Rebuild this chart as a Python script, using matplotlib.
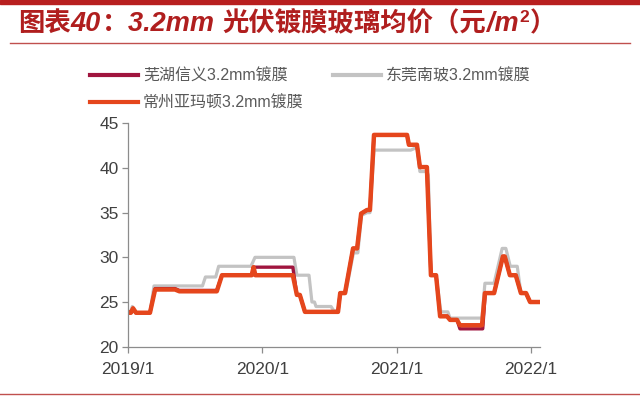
import matplotlib
matplotlib.use("Agg")
import matplotlib.pyplot as plt
import pandas as pd

plt.rcParams['font.family'] = ['Liberation Sans', 'Noto Sans CJK SC', 'DejaVu Sans']

# ---- data ----
wuhu_dates = ["2019-01-01", "2019-01-08", "2019-01-14", "2019-01-22", "2019-03-01", "2019-03-15",
              "2019-05-08", "2019-05-20", "2019-08-30", "2019-09-13", "2019-12-03", "2019-12-10",
              "2020-03-24", "2020-04-04", "2020-04-12", "2020-04-26", "2020-07-25", "2020-07-31",
              "2020-08-13", "2020-09-04", "2020-09-15", "2020-09-26", "2020-10-12", "2020-10-20",
              "2020-10-31", "2021-01-29", "2021-02-03", "2021-02-25", "2021-03-05", "2021-03-24",
              "2021-04-04", "2021-04-18", "2021-04-29", "2021-05-18", "2021-05-26", "2021-06-14",
              "2021-06-22", "2021-08-23", "2021-08-30", "2021-09-23", "2021-10-17", "2021-10-22",
              "2021-11-05", "2021-11-21", "2021-12-05", "2021-12-19", "2021-12-30", "2022-01-26"]
wuhu_vals = [23.8, 23.8, 24.2, 23.8, 23.8, 26.5,
             26.5, 26.3, 26.3, 28.0, 28.0, 28.9,
             28.9, 25.8, 25.8, 23.9, 23.9, 26.0,
             26.0, 31.0, 31.0, 34.9, 35.3, 35.3,
             43.7, 43.7, 42.6, 42.6, 40.1, 40.1,
             28.0, 28.0, 23.4, 23.4, 23.0, 23.0,
             22.0, 22.0, 26.0, 26.0, 30.1, 30.1,
             28.0, 28.0, 26.0, 26.0, 25.0, 25.0]

dongguan_dates = ["2019-01-01", "2019-01-06", "2019-01-12", "2019-01-20", "2019-03-01", "2019-03-12",
                  "2019-07-22", "2019-07-30", "2019-08-27", "2019-09-04", "2019-12-01", "2019-12-12",
                  "2020-03-27", "2020-04-04", "2020-05-07", "2020-05-15", "2020-05-22", "2020-05-26",
                  "2020-07-06", "2020-07-14", "2020-07-25", "2020-07-31", "2020-08-15", "2020-09-05",
                  "2020-09-17", "2020-09-27", "2020-10-12", "2020-10-20", "2020-10-31", "2021-02-08",
                  "2021-02-25", "2021-03-05", "2021-03-24", "2021-03-28", "2021-04-04", "2021-04-18",
                  "2021-05-01", "2021-05-20", "2021-05-26", "2021-08-21", "2021-08-29", "2021-09-23",
                  "2021-10-15", "2021-10-25", "2021-11-06", "2021-11-25", "2021-12-05", "2021-12-19",
                  "2021-12-30", "2022-01-26"]
dongguan_vals = [23.8, 23.8, 24.5, 23.8, 23.8, 26.8,
                 26.8, 27.8, 27.8, 29.0, 29.0, 30.0,
                 30.0, 28.0, 28.0, 25.0, 25.0, 24.5,
                 24.5, 24.0, 24.0, 26.0, 26.0, 30.5,
                 30.5, 34.7, 35.0, 35.0, 42.0, 42.0,
                 42.3, 39.6, 39.6, 39.2, 28.0, 28.0,
                 23.9, 23.9, 23.2, 23.2, 27.1, 27.1,
                 31.0, 31.0, 29.0, 29.0, 26.0, 26.0,
                 25.0, 25.0]

changzhou_dates = ["2019-01-01", "2019-01-08", "2019-01-14", "2019-01-22", "2019-03-01", "2019-03-15",
                   "2019-05-08", "2019-05-20", "2019-08-30", "2019-09-13", "2019-12-03", "2019-12-08",
                   "2019-12-13", "2020-03-24", "2020-04-04", "2020-04-12", "2020-04-26", "2020-07-25",
                   "2020-07-31", "2020-08-13", "2020-09-04", "2020-09-15", "2020-09-26", "2020-10-12",
                   "2020-10-20", "2020-10-31", "2021-01-29", "2021-02-03", "2021-02-25", "2021-03-05",
                   "2021-03-24", "2021-04-04", "2021-04-18", "2021-04-29", "2021-05-18", "2021-05-26",
                   "2021-06-14", "2021-06-22", "2021-08-21", "2021-08-29", "2021-09-23", "2021-10-17",
                   "2021-10-22", "2021-11-05", "2021-11-21", "2021-12-05", "2021-12-19", "2021-12-30",
                   "2022-01-26"]
changzhou_vals = [23.8, 23.8, 24.3, 23.8, 23.8, 26.4,
                  26.4, 26.2, 26.2, 28.0, 28.0, 28.9,
                  28.0, 28.0, 25.8, 25.8, 23.9, 23.9,
                  26.0, 26.0, 31.0, 31.0, 34.9, 35.3,
                  35.3, 43.7, 43.7, 42.6, 42.6, 40.1,
                  40.1, 28.0, 28.0, 23.4, 23.4, 23.0,
                  23.0, 22.4, 22.4, 26.0, 26.0, 30.1,
                  30.1, 28.0, 28.0, 26.0, 26.0, 25.0,
                  25.0]

series_names = ["芜湖信义3.2mm镀膜", "东莞南玻3.2mm镀膜", "常州亚玛顿3.2mm镀膜"]
x_tick_dates = ["2019-01-01", "2020-01-01", "2021-01-01", "2022-01-01"]
x_tick_labels = ["2019/1", "2020/1", "2021/1", "2022/1"]
y_ticks = [20, 25, 30, 35, 40, 45]
# title pieces: (text, kind)
title_parts = [("图表", False), ("40", True), ("：", False), ("3.2mm ", True),
               ("光伏镀膜玻璃均价（元", False), ("/m", True), ("2", "sup"), ("）", False)]

# ---- figure ----
W, H = 640, 397
fig = plt.figure(figsize=(W / 100, H / 100), dpi=100)
ax = fig.add_axes([128.3 / W, 1 - 346.7 / H, (540 - 128.3) / W, (346.7 - 123.3) / H])

c_wuhu = "#A0153E"
c_dg = "#C3C3C3"
c_cz = "#E5461C"

l2, = ax.plot(pd.to_datetime(dongguan_dates), dongguan_vals, color=c_dg, lw=2.3)
l1, = ax.plot(pd.to_datetime(wuhu_dates), wuhu_vals, color=c_wuhu, lw=2.4)
l3, = ax.plot(pd.to_datetime(changzhou_dates), changzhou_vals, color=c_cz, lw=3.2)

ax.set_xlim(pd.Timestamp("2019-01-01"), pd.Timestamp("2022-01-26"))
ax.set_ylim(20, 45)
ax.set_yticks(y_ticks)
ax.set_xticks(pd.to_datetime(x_tick_dates))
ax.set_xticklabels(x_tick_labels)

for s in ["top", "right"]:
    ax.spines[s].set_visible(False)
for s in ["left", "bottom"]:
    ax.spines[s].set_color("#8C8C8C")
    ax.spines[s].set_linewidth(0.9)
ax.tick_params(axis='both', colors="#8C8C8C", length=4, width=0.9, labelcolor="#404040",
               labelsize=12.5)
ax.tick_params(axis='x', pad=7)
ax.tick_params(axis='y', pad=3)

leg = fig.legend([l1, l3, l2], [series_names[0], series_names[2], series_names[1]],
                 loc="upper left", bbox_to_anchor=(84 / W, 1 - 62 / H), ncol=2, frameon=False,
                 prop={'family': ['Liberation Sans', 'Noto Sans CJK SC'], 'size': 11.5},
                 handlelength=3.0, handletextpad=0.3, columnspacing=1.85, labelspacing=0.75,
                 borderaxespad=0)
for t in leg.get_texts():
    t.set_color("#595959")
for h in leg.legend_handles:
    h.set_linewidth(3)

# decorations
fig.patches.append(plt.Rectangle((0, 1 - 4 / H), 1, 4 / H, transform=fig.transFigure,
                                 color="#B81F1F", zorder=5))
fig.add_artist(plt.Line2D([10 / W, 630 / W], [1 - 43 / H, 1 - 43 / H], color="#C0504D", lw=1.0))
fig.add_artist(plt.Line2D([0, 1], [1 - 394 / H, 1 - 394 / H], color="#C0504D", lw=1.0))

# title built from pieces so latin parts can be italic
renderer = fig.canvas.get_renderer()
x = 18.0
y_base = 1 - 31 / H
tcolor = "#B01E1E"
for txt, kind in title_parts:
    if kind is True:
        t = fig.text(x / W, y_base, txt, color=tcolor, fontsize=19.5, fontweight='bold',
                     style='italic', family='Liberation Sans', ha='left', va='baseline')
    elif kind == "sup":
        t = fig.text(x / W, y_base + 9 / H, txt, color=tcolor, fontsize=12.5, fontweight='bold',
                     family='Liberation Sans', ha='left', va='baseline')
    else:
        t = fig.text(x / W, y_base, txt, color=tcolor, fontsize=19, fontweight='bold',
                     family='Noto Sans CJK SC', ha='left', va='baseline')
    bb = t.get_window_extent(renderer)
    x = bb.x1 + (1 if kind is not False else 0)

fig.savefig("out.png", dpi=100)
